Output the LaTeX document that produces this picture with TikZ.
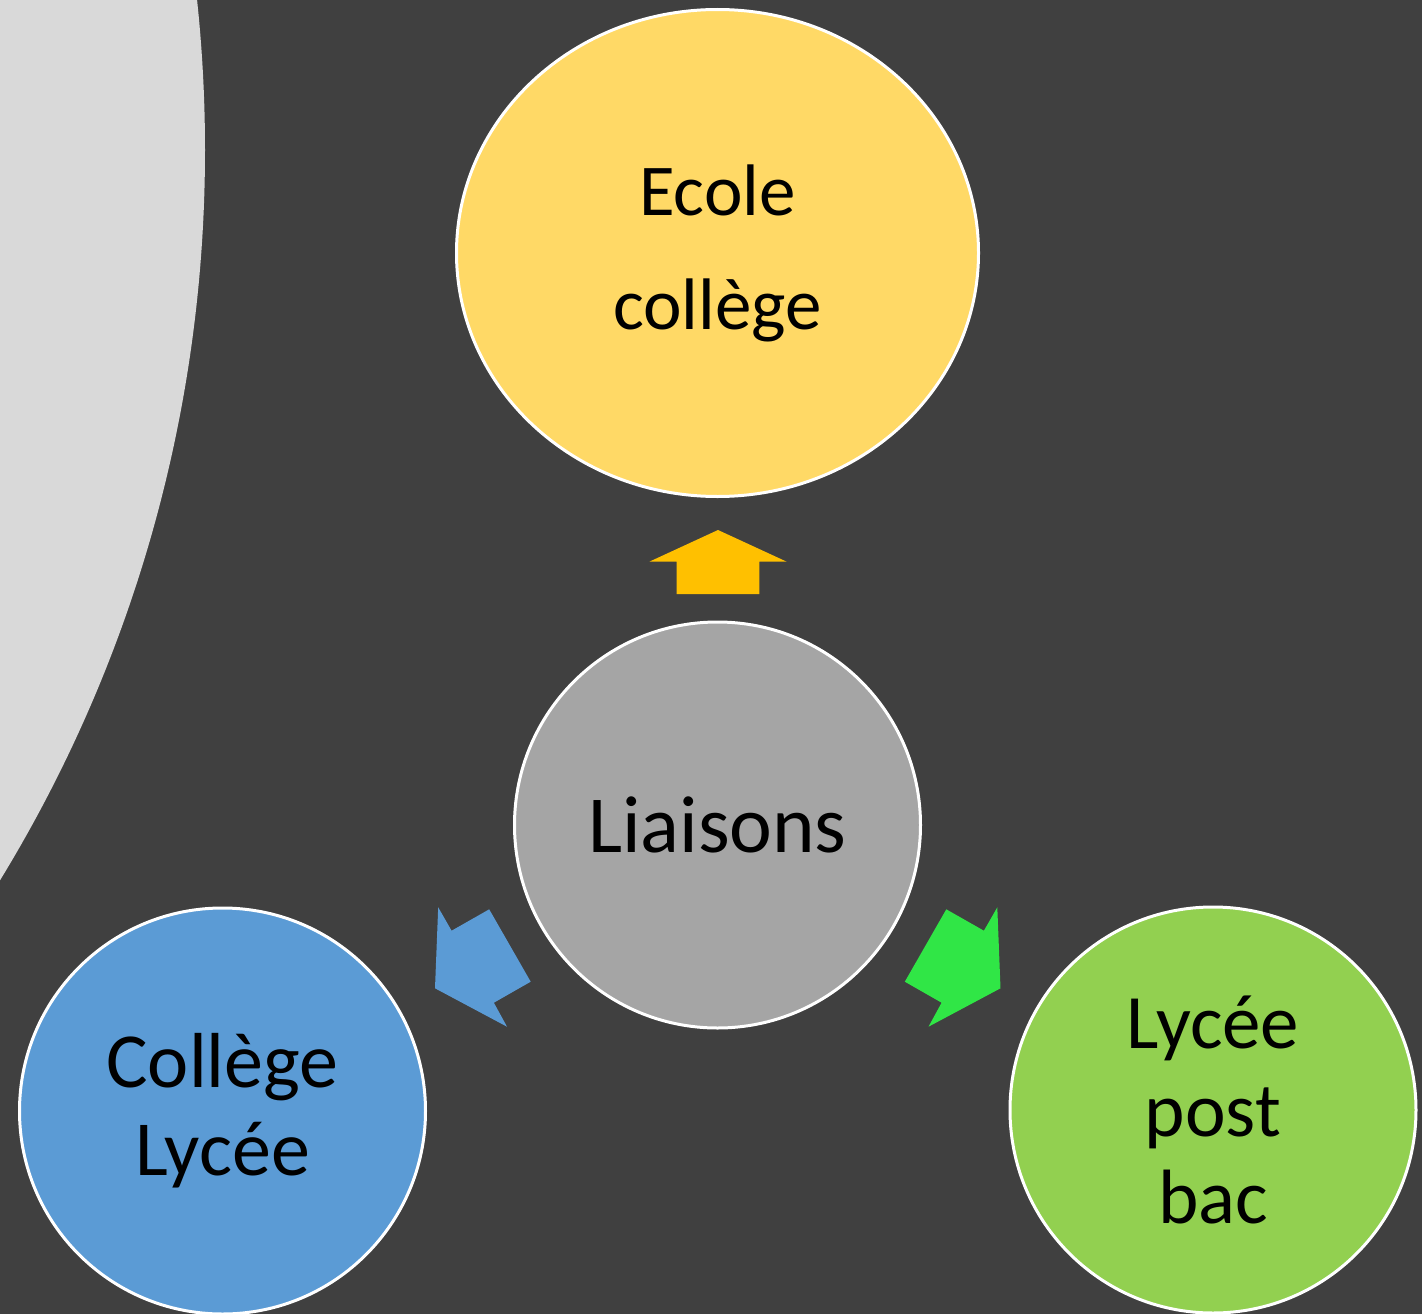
\documentclass[tikz,border=0pt]{standalone}
\usepackage{fontspec}
\setmainfont{Carlito}
\usetikzlibrary{shapes.geometric}
\definecolor{bgdark}{HTML}{404040}
\definecolor{lightgr}{HTML}{D9D9D9}
\definecolor{cgray}{HTML}{A5A5A5}
\definecolor{cyellow}{HTML}{FFD966}
\definecolor{cblue}{HTML}{5B9BD5}
\definecolor{cgreen}{HTML}{92D050}
\definecolor{ayellow}{HTML}{FFC000}
\definecolor{agreen}{HTML}{30E646}
\begin{document}
\begin{tikzpicture}[x=1pt,y=-1pt,
  bubble/.style={circle, draw=white, line width=3pt, text=black, align=center, inner sep=0pt},
  bigfont/.style={font=\fontsize{81}{96}\selectfont},
  midfont/.style={font=\fontsize{78}{88}\selectfont},
  grnfont/.style={font=\fontsize{77}{87.5}\selectfont},
  topfont/.style={font=\fontsize{73}{114}\selectfont}]
\useasboundingbox (0,0) rectangle (1422,1314);
\begin{scope}
\clip (0,0) rectangle (1422,1314);
\fill[bgdark] (0,0) rectangle (1422,1314);
\fill[lightgr] (-1197,150) circle[radius=1402pt];

\node[bubble, fill=cgray, minimum size=406pt, bigfont] (liaisons) at (717.5,825) {Liaisons};
\node[ellipse, draw=white, line width=3pt, fill=cyellow, inner sep=0pt, align=center,
      minimum width=522pt, minimum height=487pt, topfont] (ecole) at (717.5,253) {Ecole\\collège};
\node[bubble, fill=cblue, minimum size=406pt, midfont] (college) at (222.5,1111) {Collège\\Lycée};
\node[bubble, fill=cgreen, minimum size=406pt, grnfont] (lycee) at (1213,1110) {Lycée\\post\\bac};

\fill[ayellow] (718,530) -- (786.7,561.7) -- (759.3,561.7) -- (759.3,594) -- (676.7,594) -- (676.7,561.7) -- (649.3,561.7) -- cycle;
\fill[cblue] (438.2,907.3) -- (451.6,930.7) -- (489.2,909.3) -- (530.7,981.7) -- (493.9,1002.7) -- (507,1026.7) -- (435,988.3) -- cycle;
\fill[agreen] (997.3,907.3) -- (983.9,930.7) -- (946.3,909.3) -- (904.8,981.7) -- (941.6,1002.7) -- (928.5,1026.7) -- (1000.5,988.3) -- cycle;
\end{scope}
\end{tikzpicture}
\end{document}
